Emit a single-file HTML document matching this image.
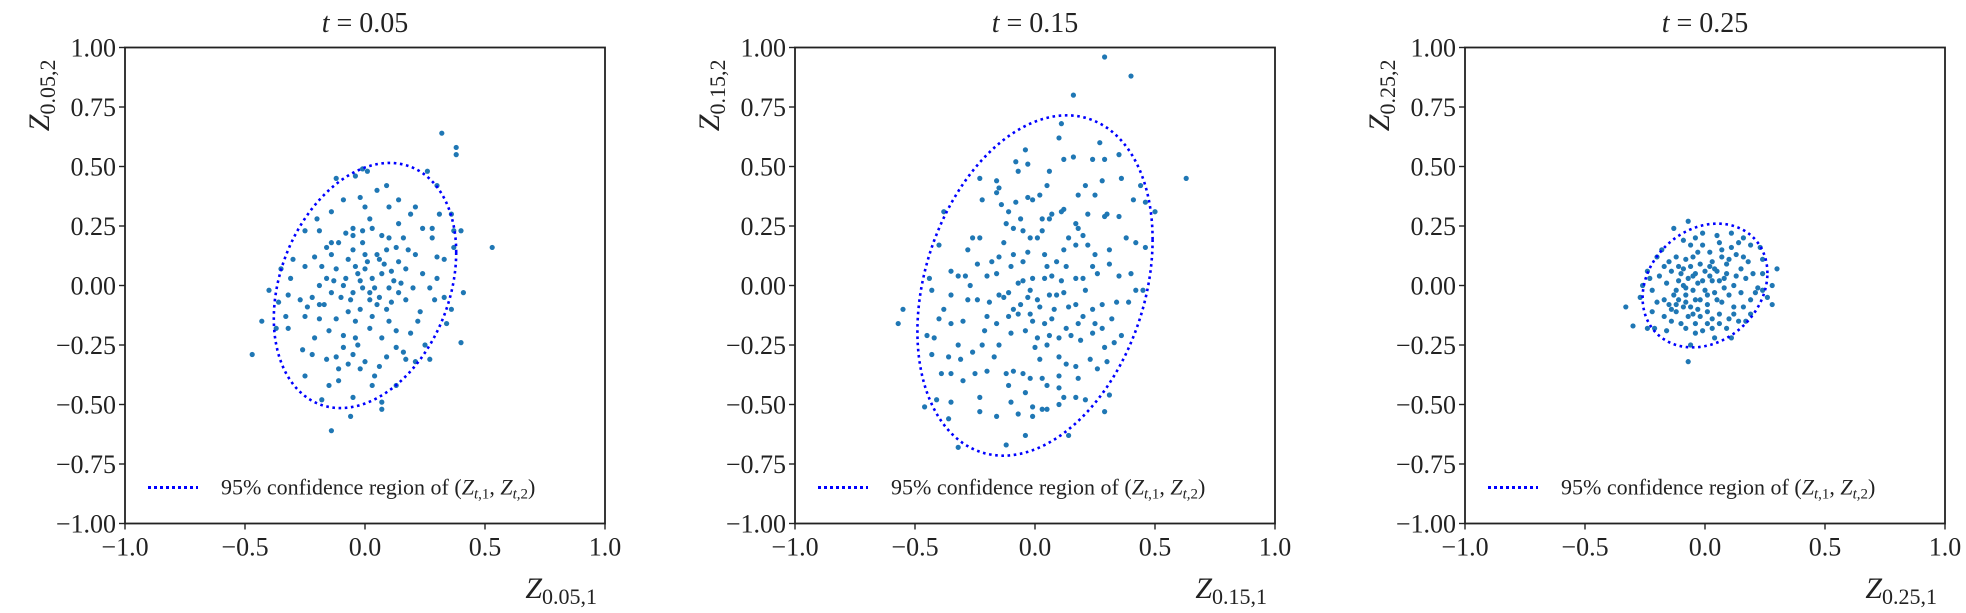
<!DOCTYPE html>
<html><head><meta charset="utf-8">
<style>
html,body{margin:0;padding:0;background:#fff;}
svg text{font-family:"Liberation Serif","DejaVu Serif",serif;fill:#222;}
</style></head>
<body>
<svg id="fig" width="1966" height="608" viewBox="0 0 1966 608" xmlns="http://www.w3.org/2000/svg"></svg>
<script>
// ---- data ----
const titles = ["0.05","0.15","0.25"];
const xTicks = [-1.0,-0.5,0.0,0.5,1.0];
const xTickLabels = ["\u22121.0","\u22120.5","0.0","0.5","1.0"];
const yTicks = [-1.0,-0.75,-0.5,-0.25,0,0.25,0.5,0.75,1.0];
const yTickLabels = ["\u22121.00","\u22120.75","\u22120.50","\u22120.25","0.00","0.25","0.50","0.75","1.00"];
// ellipse params: [cx, cy, sx, sy, rho]
const ellipse1 = [0.0, 0.0, 0.38, 0.515, 0.27];
const ellipse2 = [0.0, 0.0, 0.49, 0.715, 0.27];
const ellipse3 = [0.0, 0.0, 0.26, 0.26, 0.2];
const points1 = [[-0.12,0.45],[-0.04,0.46],[-0.01,0.49],[0.01,0.48],[0.09,0.42],[0.05,0.40],[0.26,0.48],[0.30,0.42],[0.32,0.64],[0.38,0.58],[0.38,0.55],[0.53,0.16],[0.41,-0.03],[0.40,-0.24],[-0.47,-0.29],[-0.43,-0.15],[-0.14,-0.61],[-0.06,-0.55],[0.07,-0.52],[0.07,-0.49],[-0.18,-0.48],[-0.25,-0.38],[-0.11,-0.40],[-0.05,-0.47],[0.03,-0.42],[0.13,-0.42],[0.21,-0.32],[0.27,-0.31],[0.16,-0.28],[0.09,-0.30],[0.00,-0.32],[-0.05,-0.29],[-0.09,-0.26],[-0.16,-0.31],[-0.22,-0.29],[-0.26,-0.27],[-0.21,-0.22],[-0.15,-0.19],[-0.09,-0.21],[-0.04,-0.22],[0.02,-0.18],[0.07,-0.22],[0.13,-0.19],[0.19,-0.20],[0.23,-0.11],[0.29,-0.06],[0.33,-0.05],[0.36,-0.10],[0.34,-0.16],[0.27,-0.01],[0.30,0.03],[0.24,0.05],[0.17,0.07],[0.21,0.13],[0.30,0.12],[0.33,0.11],[0.28,0.20],[0.24,0.24],[0.28,0.24],[0.31,0.30],[0.36,0.30],[0.37,0.23],[0.40,0.23],[0.37,0.16],[0.19,0.30],[0.14,0.26],[0.16,0.20],[0.13,0.16],[0.09,0.15],[0.07,0.21],[0.03,0.24],[-0.01,0.23],[-0.05,0.21],[-0.11,0.18],[-0.16,0.16],[-0.21,0.12],[-0.25,0.08],[-0.30,0.11],[-0.31,0.03],[-0.35,0.07],[-0.40,-0.02],[-0.36,-0.07],[-0.32,-0.04],[-0.27,-0.06],[-0.22,-0.05],[-0.17,-0.08],[-0.14,-0.03],[-0.09,0.00],[-0.05,-0.03],[-0.01,-0.01],[0.02,-0.03],[0.06,-0.05],[0.10,-0.01],[0.14,-0.03],[0.12,0.02],[0.07,0.05],[0.03,0.03],[0.00,0.07],[-0.04,0.08],[-0.08,0.03],[-0.12,0.07],[-0.16,0.03],[-0.19,0.00],[0.00,0.13],[0.05,0.13],[-0.01,0.18],[-0.05,0.15],[-0.14,0.13],[-0.02,-0.10],[-0.07,-0.11],[0.03,-0.13],[0.09,-0.10],[-0.12,-0.14],[-0.19,-0.14],[-0.25,-0.13],[-0.33,-0.13],[-0.37,-0.18],[-0.32,-0.18],[0.17,-0.06],[0.20,-0.01],[0.14,0.36],[0.10,0.33],[0.00,0.33],[-0.09,0.36],[-0.02,0.37],[-0.14,0.31],[-0.14,0.18],[-0.19,0.23],[-0.25,0.23],[-0.05,0.24],[0.14,0.10],[-0.19,-0.08],[-0.07,-0.33],[-0.11,-0.35],[-0.02,-0.35],[0.06,-0.34],[0.17,-0.31],[0.13,-0.26],[-0.15,-0.42],
[-0.03,0.05],[0.01,0.10],[0.04,-0.01],[-0.06,-0.06],[0.08,0.09],[-0.10,-0.05],[0.11,0.06],[-0.02,0.02],[0.05,-0.08],[-0.07,0.11],[0.02,-0.06],[0.06,0.11],[-0.04,-0.15],[0.10,-0.15],[-0.13,0.02],[0.15,0.01],[0.18,0.15],[-0.08,0.22],[0.02,0.28],[0.10,0.20],[-0.18,0.08],[-0.24,-0.09],[0.22,-0.15],[0.25,-0.25],[-0.03,-0.25],[-0.12,-0.30],[0.04,-0.38],[-0.20,0.28],[0.21,0.33],[0.11,-0.07]];
const points2 = [[0.29,0.96],[0.40,0.88],[0.16,0.80],[0.63,0.45],[-0.57,-0.16],[-0.55,-0.10],[-0.12,-0.67],[-0.04,-0.63],[-0.32,-0.68],[0.14,-0.63],[0.50,0.31],[0.11,0.68],[0.10,0.62],[-0.04,0.57],[0.24,0.53],[0.27,0.60],[0.29,0.53],[0.35,0.55],[0.16,0.54],[0.12,0.53],[0.06,0.48],[0.05,0.42],[-0.03,0.51],[-0.08,0.52],[-0.07,0.48],[-0.23,0.45],[-0.16,0.44],[-0.15,0.41],[-0.16,0.39],[-0.22,0.36],[0.28,0.44],[0.36,0.45],[0.21,0.42],[0.18,0.38],[0.25,0.38],[0.44,0.42],[0.41,0.36],[0.46,0.35],[0.46,0.16],[0.42,0.18],[0.38,0.20],[0.35,0.29],[0.29,0.29],[0.30,0.30],[-0.03,0.37],[-0.01,0.36],[0.02,0.38],[-0.08,0.35],[-0.11,0.31],[-0.14,0.34],[0.12,0.32],[0.11,0.31],[0.07,0.30],[0.06,0.28],[0.03,0.28],[-0.12,0.26],[-0.09,0.24],[-0.05,0.23],[-0.02,0.20],[0.01,0.20],[0.03,0.23],[0.17,0.26],[0.18,0.24],[0.20,0.21],[0.22,0.17],[0.25,0.13],[0.17,0.17],[0.12,0.15],[0.09,0.10],[0.04,0.13],[-0.03,0.14],[-0.05,0.10],[-0.09,0.13],[-0.15,0.12],[-0.18,0.10],[-0.26,0.20],[-0.23,0.20],[-0.28,0.15],[-0.40,0.17],[-0.38,0.31],[-0.44,0.03],[-0.43,-0.02],[-0.35,0.06],[-0.32,0.04],[-0.29,0.04],[-0.24,0.09],[-0.20,0.04],[-0.16,0.05],[-0.10,0.08],[-0.05,0.02],[-0.01,0.03],[0.04,0.03],[0.07,0.04],[0.11,0.02],[0.17,0.03],[0.20,0.03],[0.24,0.08],[0.26,0.05],[0.31,0.09],[0.35,0.04],[0.40,0.05],[0.42,-0.02],[0.45,-0.02],[0.39,-0.07],[0.34,-0.07],[0.28,-0.08],[0.21,-0.02],[0.17,-0.08],[0.12,-0.03],[0.09,-0.04],[0.06,-0.04],[0.01,-0.06],[-0.03,-0.05],[-0.06,-0.08],[-0.09,-0.10],[-0.13,-0.05],[-0.15,-0.04],[-0.19,-0.07],[-0.24,-0.06],[-0.28,-0.06],[-0.35,-0.04],[-0.38,-0.10],[-0.40,-0.14],[-0.42,-0.22],[-0.45,-0.21],[-0.35,-0.16],[-0.30,-0.15],[-0.20,-0.13],[-0.16,-0.16],[-0.11,-0.13],[-0.07,-0.12],[-0.02,-0.12],[0.04,-0.16],[0.07,-0.14],[0.13,-0.18],[0.18,-0.16],[0.20,-0.13],[0.25,-0.16],[0.28,-0.18],[0.32,-0.14],[0.36,-0.21],[0.33,-0.24],[0.29,-0.26],[0.24,-0.20],[0.19,-0.23],[0.15,-0.21],[0.10,-0.22],[0.06,-0.21],[0.01,-0.22],[-0.04,-0.19],[-0.10,-0.20],[-0.15,-0.25],[-0.22,-0.25],[-0.26,-0.28],[-0.32,-0.25],[-0.36,-0.30],[-0.43,-0.29],[-0.39,-0.37],[-0.35,-0.37],[-0.31,-0.31],[-0.25,-0.37],[-0.20,-0.36],[-0.12,-0.37],[-0.09,-0.36],[-0.05,-0.37],[0.00,-0.26],[0.05,-0.25],[0.10,-0.30],[0.13,-0.33],[0.17,-0.34],[0.23,-0.31],[0.30,-0.32],[0.26,-0.35],[0.18,-0.39],[0.10,-0.38],[0.03,-0.39],[-0.02,-0.39],[-0.11,-0.42],[-0.04,-0.45],[0.05,-0.42],[0.10,-0.43],[0.12,-0.47],[0.17,-0.47],[0.21,-0.48],[0.31,-0.46],[0.29,-0.53],[0.10,-0.50],[0.03,-0.52],[-0.01,-0.51],[-0.10,-0.49],[-0.23,-0.47],[-0.23,-0.53],[-0.16,-0.55],[-0.07,-0.54],[-0.01,-0.55],[0.05,-0.52],[-0.46,-0.51],[-0.41,-0.48],[-0.36,-0.56],[-0.35,-0.49],
[-0.02,-0.02],[0.02,-0.09],[-0.07,0.01],[0.05,0.08],[-0.11,-0.03],[0.13,0.08],[-0.01,-0.15],[0.08,-0.10],[-0.13,0.18],[0.14,0.20],[-0.06,0.28],[0.22,0.30],[-0.21,-0.19],[0.24,-0.10],[-0.27,0.00],[0.31,0.15],[-0.30,-0.40],[0.02,-0.31],[-0.17,-0.30],[0.14,-0.09]];
const points3 = [[-0.07,0.27],[-0.07,-0.32],[-0.33,-0.09],[-0.30,-0.17],[0.30,0.07],[0.28,-0.08],[-0.13,0.24],[0.28,0.00],[0.26,-0.05],[0.24,0.05],[0.24,0.11],[0.23,0.16],[0.19,0.17],[0.16,0.20],[0.11,0.22],[0.05,0.21],[-0.01,0.22],[-0.04,0.20],[-0.09,0.19],[-0.18,0.15],[-0.20,0.12],[-0.24,0.06],[-0.26,0.00],[-0.27,-0.05],[-0.22,-0.02],[-0.22,-0.11],[-0.24,-0.18],[-0.21,-0.18],[-0.14,-0.15],[-0.12,-0.11],[-0.08,-0.18],[-0.04,-0.20],[-0.05,-0.12],[0.03,-0.14],[0.04,-0.22],[0.11,-0.22],[0.09,-0.18],[0.14,-0.15],[0.19,-0.12],[0.16,-0.09],[0.21,-0.03],[0.17,0.03],[0.15,0.07],[0.10,0.11],[0.07,0.15],[0.02,0.14],[-0.03,0.14],[-0.08,0.11],[-0.11,0.08],[-0.14,0.06],[-0.16,0.01],[-0.17,-0.06],[-0.15,-0.08],[-0.11,-0.06],[-0.08,-0.07],[-0.05,-0.02],[-0.02,-0.06],[0.01,-0.08],[0.04,-0.03],[0.07,-0.07],[0.10,-0.04],[0.12,0.00],[0.13,0.04],[0.09,0.05],[0.05,0.06],[0.02,0.04],[-0.01,0.02],[-0.04,0.05],[-0.07,0.03],[-0.09,0.00],[-0.12,-0.02],[-0.10,0.05],[-0.06,0.08],[-0.02,0.09],[0.03,0.10],[0.06,0.02],[0.08,-0.01],[0.00,-0.02],[-0.03,-0.10],[-0.07,-0.13],[-0.10,-0.16],[0.01,-0.16],[0.06,-0.12],[0.12,-0.09],[0.18,0.10],[0.20,0.05],[0.13,0.13],[-0.12,0.12],[-0.15,0.10],[-0.19,0.04],[-0.20,-0.07],[-0.17,-0.13],[-0.06,-0.25],[0.03,-0.18],[0.10,-0.14],[-0.01,0.17],[0.06,0.18],[-0.06,0.17],[0.15,-0.03],[0.22,-0.01],[-0.02,-0.13],[-0.13,-0.04],[-0.08,-0.04],[0.04,0.07],[-0.04,-0.06],[0.00,0.06],[-0.11,0.02],[0.09,0.09],[-0.05,0.12],[0.01,-0.11],[0.17,-0.15],[-0.16,-0.19],[0.24,-0.02],[-0.23,0.03],[0.14,0.18],[-0.09,-0.09],[0.05,-0.06],
[-0.03,0.01],[0.01,-0.04],[-0.06,-0.09],[0.03,0.02],[-0.09,0.07],[0.07,0.12],[-0.01,-0.19],[0.11,0.16],[-0.14,-0.10],[0.16,0.12],[-0.05,0.04],[0.02,0.08],[-0.08,-0.01],[0.08,0.03],[-0.12,-0.08],[0.06,-0.16],[-0.04,-0.16],[0.12,-0.12],[-0.17,0.08],[0.19,-0.06]];

const panelLefts = [125, 795, 1465];
const TOP = 47.5, W = 480, H = 476;
const svg = document.getElementById('fig');
const NS = 'http://www.w3.org/2000/svg';
function mk(tag, attrs, parent){const e=document.createElementNS(NS,tag);for(const k in attrs)e.setAttribute(k,attrs[k]);(parent||svg).appendChild(e);return e;}

const allPoints=[points1,points2,points3], allEll=[ellipse1,ellipse2,ellipse3];
for(let p=0;p<3;p++){
  const L=panelLefts[p];
  const sx=v=>L+(v+1)/2*W;
  const sy=v=>TOP+(1-v)/2*H;
  const g=mk('g',{});
  
  
  const pg=mk('g',{},g);
  
  
  allPoints[p].forEach(pt=>{
    const c=mk('circle',{cx:sx(pt[0]),cy:sy(pt[1]),r:2.6,fill:'#1f77b4'},pg);
    
    
  });
  const [cx,cy,ex,ey,rho]=allEll[p];
  let d='';
  for(let i=0;i<=200;i++){
    const th=i/200*2*Math.PI;
    const x=cx+ex*Math.cos(th), y=cy+ey*(rho*Math.cos(th)+Math.sqrt(1-rho*rho)*Math.sin(th));
    d+=(i?'L':'M')+sx(x).toFixed(2)+' '+sy(y).toFixed(2);
  }
  const el=mk('path',{d:d,fill:'none',stroke:'#0000ff','stroke-width':2.6,'stroke-dasharray':'2.6 3.6'},g);
  
  
  const fr=mk('rect',{x:L,y:TOP,width:W,height:H,fill:'none',stroke:'#222','stroke-width':1.8},g);
  
  
  xTicks.forEach((v,i)=>{
    mk('line',{x1:sx(v),x2:sx(v),y1:TOP+H,y2:TOP+H+6,stroke:'#222','stroke-width':1.4},g);
    const t=mk('text',{x:sx(v),y:TOP+H+32,'text-anchor':'middle','font-size':26},g);
    t.textContent=xTickLabels[i];
    
    
  });
  yTicks.forEach((v,i)=>{
    mk('line',{x1:L-6,x2:L,y1:sy(v),y2:sy(v),stroke:'#222','stroke-width':1.4},g);
    const t=mk('text',{x:L-9,y:sy(v)+9,'text-anchor':'end','font-size':26},g);
    t.textContent=yTickLabels[i];
    
    
  });
  const tt=mk('text',{x:L+W/2,y:32,'text-anchor':'middle','font-size':28},g);
  tt.innerHTML='<tspan font-style="italic">t</tspan> = '+titles[p];
  
  
  const xl=mk('text',{x:L+W-8,y:598,'text-anchor':'end','font-size':30},g);
  xl.innerHTML='<tspan font-style="italic">Z</tspan><tspan font-size="22" dy="6">'+titles[p]+',1</tspan>';
  
  
  const yl=mk('text',{x:0,y:0,'text-anchor':'end','font-size':30,transform:'translate('+(L-76)+','+(TOP+12)+') rotate(-90)'},g);
  yl.innerHTML='<tspan font-style="italic">Z</tspan><tspan font-size="22" dy="6">'+titles[p]+',2</tspan>';
  
  
  const lg=mk('g',{},g);
  
  
  const ly=TOP+440;
  mk('line',{x1:L+23,x2:L+73,y1:ly,y2:ly,stroke:'#0000ff','stroke-width':3,'stroke-dasharray':'3 3'},lg);
  const lt=mk('text',{x:L+96,y:ly+7,'font-size':22},lg);
  lt.innerHTML='95% confidence region of (<tspan font-style="italic">Z</tspan><tspan font-size="15" dy="4"><tspan font-style="italic">t</tspan>,1</tspan><tspan dy="-4">, </tspan><tspan font-style="italic">Z</tspan><tspan font-size="15" dy="4"><tspan font-style="italic">t</tspan>,2</tspan><tspan dy="-4">)</tspan>';
  
  
}
</script>
</body></html>
